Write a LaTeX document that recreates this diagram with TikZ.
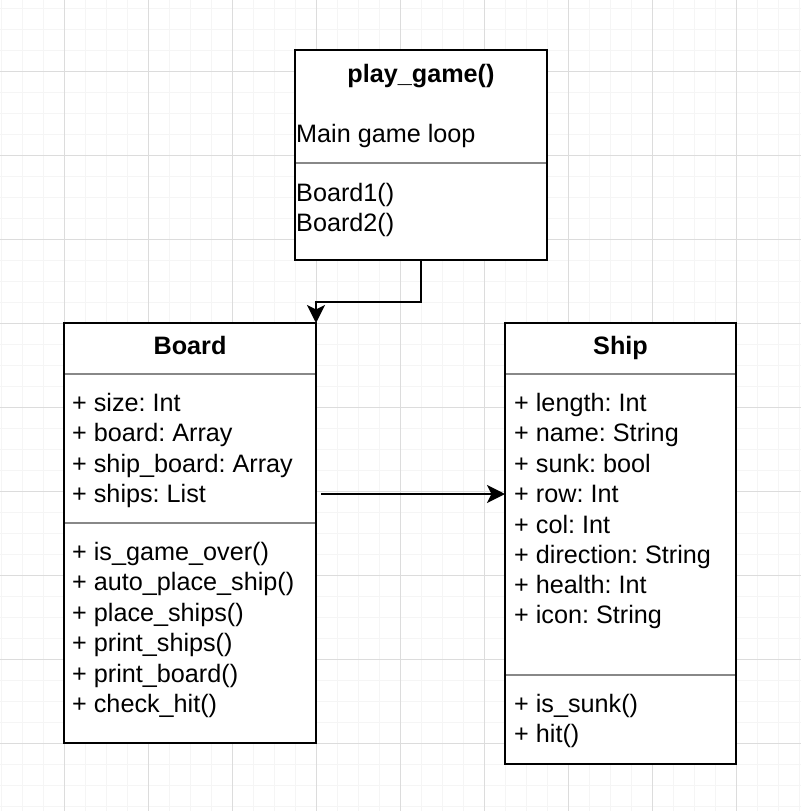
\documentclass[tikz,border=0pt]{standalone}
\usepackage{fontspec}
\setmainfont{Liberation Sans}
\usetikzlibrary{arrows.meta}
\definecolor{gridmajor}{RGB}{220,220,220}
\definecolor{gridminor}{RGB}{245,245,245}
\definecolor{divgray}{RGB}{136,136,136}
\frenchspacing

\begin{document}
\begin{tikzpicture}[x=1pt, y=-1pt,
  font=\fontsize{25.2}{30}\selectfont,
  umlbox/.style={draw=black, line width=2pt, fill=white, inner sep=0pt, outer sep=0pt},
  divider/.style={draw=divgray, line width=2pt, shorten <=1pt, shorten >=1pt},
  title/.style={font=\fontsize{25.2}{30}\selectfont\bfseries, anchor=base, inner sep=0pt},
  entry/.style={anchor=base west, inner sep=0pt},
  conn/.style={line width=2pt, -{Stealth[length=18pt, width=18pt, inset=4.5pt]}}]
\fill[white] (0,0) rectangle (801,811);
\useasboundingbox (0,0) rectangle (801,811);
% grid
\foreach \g in {1,22,...,799} \draw[gridminor, line width=1pt] (\g,0) -- (\g,811);
\foreach \g in {8,29,...,806} \draw[gridminor, line width=1pt] (0,\g) -- (801,\g);
\foreach \g in {64,148,...,736} \draw[gridmajor, line width=1pt] (\g,0) -- (\g,811);
\foreach \g in {71,155,...,743} \draw[gridmajor, line width=1pt] (0,\g) -- (801,\g);

% boxes
\node[umlbox, minimum width=252pt, minimum height=210pt] (play) at (421,155) {};
\node[umlbox, minimum width=252pt, minimum height=420pt] (board) at (190,533) {};
\node[umlbox, minimum width=231pt, minimum height=441pt] (ship) at (620.5,543.5) {};
\draw[divider] ([yshift=-113pt]play.north west) -- ([yshift=-113pt]play.north east);
\draw[divider] ([yshift=-51pt]board.north west) -- ([yshift=-51pt]board.north east);
\draw[divider] ([yshift=-200pt]board.north west) -- ([yshift=-200pt]board.north east);
\draw[divider] ([yshift=-51pt]ship.north west) -- ([yshift=-51pt]ship.north east);
\draw[divider] ([yshift=-352pt]ship.north west) -- ([yshift=-352pt]ship.north east);

% play_game
\node[title] (playtitle) at (421,82) {play\_game()};
\node[entry] (playdesc) at (296,142) {Main game loop};
\node[entry] (play1) at (296,201) {Board1()};
\node[entry] (play2) at (296,231) {Board2()};

% Board
\node[title] (boardtitle) at (190,354) {Board};
\node[entry] (battr1) at (72,411) {+ size: Int};
\node[entry] (battr2) at (72,441) {+ board: Array};
\node[entry] (battr3) at (72,472) {+ ship\_board: Array};
\node[entry] (battr4) at (72,502) {+ ships: List};
\node[entry] (bmeth1) at (72,560) {+ is\_game\_over()};
\node[entry] (bmeth2) at (72,590) {+ auto\_place\_ship()};
\node[entry] (bmeth3) at (72,621) {+ place\_ships()};
\node[entry] (bmeth4) at (72,651) {+ print\_ships()};
\node[entry] (bmeth5) at (72,682) {+ print\_board()};
\node[entry] (bmeth6) at (72,712) {+ check\_hit()};

% Ship
\node[title] (shiptitle) at (620.5,354) {Ship};
\node[entry] (sattr1) at (514,411) {+ length: Int};
\node[entry] (sattr2) at (514,441) {+ name: String};
\node[entry] (sattr3) at (514,472) {+ sunk: bool};
\node[entry] (sattr4) at (514,502) {+ row: Int};
\node[entry] (sattr5) at (514,533) {+ col: Int};
\node[entry] (sattr6) at (514,563) {+ direction: String};
\node[entry] (sattr7) at (514,593) {+ health: Int};
\node[entry] (sattr8) at (514,623) {+ icon: String};
\node[entry] (smeth1) at (514,712) {+ is\_sunk()};
\node[entry] (smeth2) at (514,742) {+ hit()};

% connectors
\draw[conn] (play.south) -- ++(0,42) -| (board.north east);
\coordinate (listend) at (321,494);
\draw[conn] (listend) -- (listend -| ship.west);
\end{tikzpicture}
\end{document}
